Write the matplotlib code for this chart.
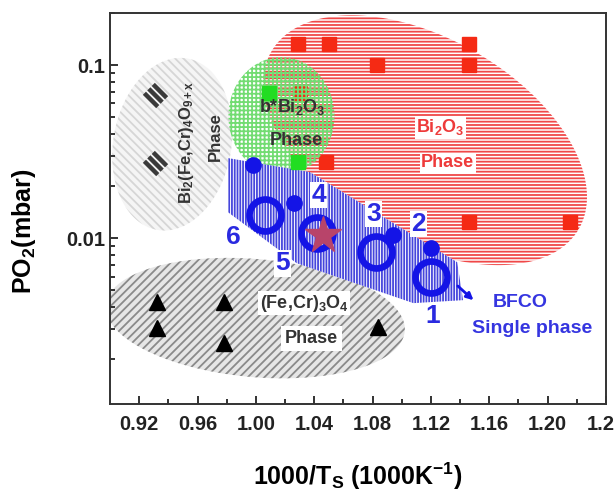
import numpy as np
import matplotlib
matplotlib.use("Agg")
import matplotlib.pyplot as plt
from matplotlib.patches import Polygon
from matplotlib.path import Path

plt.rcParams["font.family"] = ["Liberation Sans", "DejaVu Sans"]
plt.rcParams["font.weight"] = "bold"
plt.rcParams["axes.labelweight"] = "bold"
plt.rcParams["mathtext.fontset"] = "custom"
plt.rcParams["mathtext.rm"] = "Liberation Sans:bold"
plt.rcParams["mathtext.bf"] = "Liberation Sans:bold"
plt.rcParams["mathtext.it"] = "Liberation Sans:bold"
plt.rcParams["hatch.linewidth"] = 1.3

# Punkty pomiarowe
red_x = [1.029, 1.050, 1.146, 1.083, 1.146, 1.146, 1.215, 1.030, 1.048]
red_y = [0.132, 0.132, 0.132, 0.100, 0.100, 0.0124, 0.0124, 0.069, 0.0275]
green_x = [1.009, 1.029]
green_y = [0.069, 0.0275]
tri_x = [0.932, 0.932, 0.978, 0.978, 1.084]
tri_y = [0.00427, 0.00302, 0.00427, 0.00247, 0.00306]
diam_x = [0.931, 0.931]
diam_y = [0.067, 0.027]
ring_x = [1.0065, 1.042, 1.082, 1.120]
ring_y = [0.0136, 0.0107, 0.0083, 0.00596]
dot_x = [0.998, 1.026, 1.094, 1.120]
dot_y = [0.0264, 0.0159, 0.0104, 0.00875]
star_x = [1.046]
star_y = [0.0104]

# Numery probek
num_labels = ["1", "2", "3", "4", "5", "6"]
num_x = [1.121, 1.1115, 1.0806, 1.0429, 1.0181, 0.9845]
num_y = [0.00354, 0.01205, 0.01377, 0.01774, 0.00716, 0.01014]

# Obszar jednofazowy BFCO
band_x = [0.981, 1.037, 1.138, 1.142, 1.108, 1.028, 0.981]
band_y = [0.029, 0.0241, 0.00726, 0.00438, 0.00421, 0.00716, 0.0141]

x_ticks = [0.92, 0.96, 1.00, 1.04, 1.08, 1.12, 1.16, 1.20, 1.24]

fig = plt.figure(figsize=(6.14, 4.94), dpi=100)
ax = fig.add_axes([110 / 614, 1 - 404 / 494, 496 / 614, 391 / 494])
ax.set_yscale("log")
ax.set_xlim(0.90, 1.24)
ax.set_ylim(0.0011, 0.2)


def ellipse(cx, cy, w, h, angle, n=240):
    # srodek w jednostkach danych, rozmiar w pikselach
    x0, y0 = ax.transData.transform((cx, cy))
    t = np.linspace(0, 2 * np.pi, n)
    a = np.deg2rad(angle)
    ex = w / 2 * np.cos(t)
    ey = h / 2 * np.sin(t)
    px = x0 + ex * np.cos(a) - ey * np.sin(a)
    py = y0 + ex * np.sin(a) + ey * np.cos(a)
    return ax.transData.inverted().transform(np.column_stack([px, py]))


def region(verts, face, hatch, hcolor, z):
    if face != "none":
        ax.add_patch(Polygon(verts, closed=True, facecolor=face, edgecolor="none", lw=0, zorder=z))
    ax.add_patch(Polygon(verts, closed=True, facecolor="none", edgecolor=hcolor, lw=0, hatch=hatch, zorder=z))


# Obszary faz
region(ellipse(0.9427, 0.0349, 118, 174, -10), "#f5f5f5", "\\\\\\\\", "#d6d6d6", 1)
region(ellipse(0.9996, 0.00345, 300, 118, -5), "#e6e6e6", "////", "#8a8a8a", 1)
region(ellipse(1.116, 0.0368, 355, 203, -30), "white", "-----", "#f04848", 2)
ax.plot(red_x, red_y, "s", color="#f52a14", ms=10, zorder=2.5)
region(ellipse(1.0175, 0.0507, 106, 118, 0), "none", "++++", "#72dc72", 3)
region(np.column_stack([band_x, band_y]), "white", "||||||", "#4646dc", 4)

# Markery
ax.plot(green_x, green_y, "s", color="#22dd22", ms=10, zorder=5)
ax.plot(tri_x, tri_y, "^", color="black", ms=12, zorder=5)

# romb z paskami
s = 0.707
verts, codes = [], []
for d in (-0.47, 0.0, 0.47):
    cx, cy = d * s, d * s
    verts += [(cx - s * s, cy + s * s), (cx + s * s, cy - s * s)]
    codes += [Path.MOVETO, Path.LINETO]
stripe_marker = Path(verts, codes)
ax.plot(diam_x, diam_y, linestyle="none", marker=stripe_marker, ms=16, mew=3.2,
        color="#3a3a3a", zorder=5)

ax.plot(dot_x, dot_y, "o", color="#1414e6", ms=11, zorder=6)
ax.plot(ring_x, ring_y, "o", mfc="none", mec="#1414e6", ms=23, mew=4.8, zorder=6)
ax.plot(star_x, star_y, "*", color="#b8446a", ms=28, zorder=7)

ax.annotate("", xy=(1.1506, 0.00427), xytext=(1.137, 0.00542),
            arrowprops=dict(arrowstyle="-|>", color="#1414e6", lw=2, mutation_scale=10),
            zorder=7)

# Opisy
white = dict(facecolor="white", edgecolor="none", pad=1)
for lab, x, y in zip(num_labels, num_x, num_y):
    ax.text(x, y, lab, color="#2a2ae0", fontsize=19, ha="center", va="center",
            bbox=white, zorder=8)

ax.text(1.1266, 0.0438, r"Bi$_2$O$_3$", color="#ee3a3a", fontsize=13, ha="center",
        va="center", bbox=white, zorder=8)
ax.text(1.1314, 0.0272, "Phase", color="#ee3a3a", fontsize=13, ha="center",
        va="center", bbox=white, zorder=8)
ax.text(1.025, 0.0572, r"b*Bi$_2$O$_3$", color="#333333", fontsize=13, ha="center",
        va="center", zorder=8)
ax.text(1.0278, 0.0368, "Phase", color="#333333", fontsize=13, ha="center",
        va="center", zorder=8)
ax.text(0.9523, 0.0359, r"Bi$_2$(Fe,Cr)$_4$O$_{9+x}$", color="#333333", fontsize=12,
        rotation=90, ha="center", va="center", zorder=8)
ax.text(0.9722, 0.0384, "Phase", color="#333333", fontsize=12, rotation=90,
        ha="center", va="center", zorder=8)
ax.text(1.0332, 0.00421, r"(Fe,Cr)$_3$O$_4$", color="#333333", fontsize=13,
        ha="center", va="center", bbox=white, zorder=8)
ax.text(1.038, 0.00264, "Phase", color="#333333", fontsize=13, ha="center",
        va="center", bbox=dict(facecolor="white", edgecolor="none", pad=3), zorder=8)
ax.text(1.1815, 0.00427, "BFCO", color="#3535e0", fontsize=14, ha="center",
        va="center", zorder=8)
ax.text(1.1897, 0.00302, "Single phase", color="#3535e0", fontsize=14, ha="center",
        va="center", zorder=8)

# Osie
ax.set_xticks(x_ticks)
ax.set_xticks(np.arange(0.94, 1.24, 0.04), minor=True)
ax.set_xticklabels([f"{v:.2f}" for v in x_ticks], fontweight="bold")
ax.set_yticks([0.01, 0.1])
ax.set_yticklabels(["0.01", "0.1"], fontweight="bold")
ax.tick_params(which="both", direction="in", width=1.3, labelsize=14.5, colors="#222222")
ax.tick_params(which="major", length=6)
ax.tick_params(which="minor", length=3.5)
ax.tick_params(axis="x", pad=8)
for sp in ax.spines.values():
    sp.set_linewidth(1.4)
    sp.set_color("#333333")

ax.set_xlabel(r"1000/T$_\mathbf{S}$ (1000K$^\mathbf{-1}$)", fontsize=18, labelpad=19)
ax.set_ylabel(r"PO$_\mathbf{2}$(mbar)", fontsize=18)
ax.yaxis.set_label_coords(-0.145, 0.4425)

plt.savefig("out.png", dpi=100)
